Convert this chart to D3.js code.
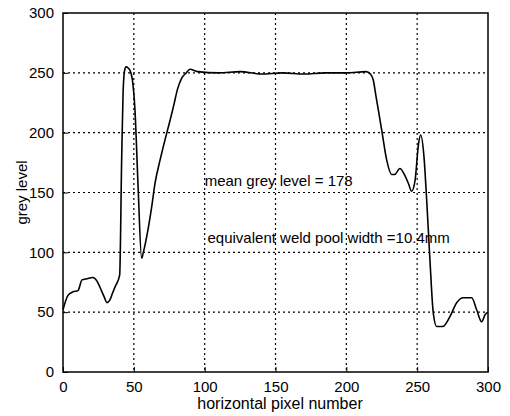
<!DOCTYPE html>
<html>
<head>
<meta charset="utf-8">
<script src="https://cdn.jsdelivr.net/npm/d3@7"></script>
<style>
  body { margin: 0; background: #fff; }
  text { font-family: "Liberation Sans", Arial, sans-serif; fill: #000; }
</style>
</head>
<body>
<svg></svg>
<script>
// grey level profile
let pixelX = [0, 3.5, 7, 10.6, 13.4, 17, 21, 24, 26, 29, 31, 33, 35, 36.7, 40, 41.4, 42.4, 43.5, 44.5, 46, 47.3, 49, 50.8, 53, 55.5, 56.7, 60, 62.6, 65, 68.5, 72, 75.5, 78, 81, 84, 87, 89.6, 95, 110, 125, 140, 155, 170, 185, 200, 214, 217, 219, 221, 225, 228.5, 232, 234, 237.8, 241, 244, 246, 248.5, 251, 252.5, 254.8, 256.7, 259, 261.4, 263.8, 268, 273, 278, 282.6, 288.5, 292, 295.5, 298, 300];
let greyLevel = [52, 64, 67, 68, 77, 78, 79, 76, 71, 63, 58, 60, 66, 71, 81, 177, 233, 252, 255, 254, 252, 244, 219, 155, 95, 100, 119, 138, 158, 177, 194, 210, 222, 237, 246, 250, 253, 251, 250, 251, 249, 250, 249, 250, 250, 251, 249, 244, 230, 202, 177, 165, 165, 170, 165, 157, 151, 160, 191, 198, 180, 144, 94, 49, 38, 38, 46, 58, 62, 62, 52, 42, 48, 50];

let xTicks = [0, 50, 100, 150, 200, 250, 300];
let yTicks = [0, 50, 100, 150, 200, 250, 300];

let notes = [
  { x: 100, y: 155.5, label: 'mean grey level = 178' },
  { x: 102, y: 108, label: 'equivalent weld pool width =10.4mm' }
];

let width = 510;
let height = 416;
let plotLeft = 63, plotRight = 488, plotTop = 13, plotBottom = 372;

let svg = d3.select('svg').attr('width', width).attr('height', height);

let xScale = d3.scaleLinear().domain([0, 300]).range([plotLeft, plotRight]);
let yScale = d3.scaleLinear().domain([0, 300]).range([plotBottom, plotTop]);

// dotted grid
svg.append('g').
  selectAll('line').
  data(xTicks.slice(1, -1)).
  enter().
  append('line').
  attr('x1', d => xScale(d)).attr('x2', d => xScale(d)).
  attr('y1', plotTop).attr('y2', plotBottom).
  attr('stroke', '#000').attr('stroke-width', 1.2).
  attr('stroke-dasharray', '2,3');

svg.append('g').
  selectAll('line').
  data(yTicks.slice(1, -1)).
  enter().
  append('line').
  attr('y1', d => yScale(d)).attr('y2', d => yScale(d)).
  attr('x1', plotLeft).attr('x2', plotRight).
  attr('stroke', '#000').attr('stroke-width', 1.2).
  attr('stroke-dasharray', '2,3');

let xAxis = d3.axisBottom(xScale).tickValues(xTicks).tickSize(-5).tickPadding(9);
let yAxis = d3.axisLeft(yScale).tickValues(yTicks).tickSize(-5).tickPadding(9);

let gx = svg.append('g').
  attr('transform', 'translate(0,' + plotBottom + ')').
  call(xAxis);
let gy = svg.append('g').
  attr('transform', 'translate(' + plotLeft + ',0)').
  call(yAxis);

[gx, gy].forEach(g => {
  g.select('.domain').remove();
  g.selectAll('text').style('font-size', '15px').style('font-family', '"Liberation Sans", Arial, sans-serif');
  g.selectAll('line').attr('stroke-width', 1);
});

// frame
svg.append('rect').
  attr('x', plotLeft).attr('y', plotTop).
  attr('width', plotRight - plotLeft).attr('height', plotBottom - plotTop).
  attr('fill', 'none').attr('stroke', '#000').attr('stroke-width', 1.5);

let line = d3.line().
  x((d, i) => xScale(pixelX[i])).
  y(d => yScale(d)).
  curve(d3.curveMonotoneX);

svg.append('path').
  datum(greyLevel).
  attr('d', line).
  attr('fill', 'none').
  attr('stroke', '#000').
  attr('stroke-width', 1.6);

svg.selectAll('.note').
  data(notes).
  enter().
  append('text').
  attr('class', 'note').
  attr('x', d => xScale(d.x)).
  attr('y', d => yScale(d.y)).
  style('font-size', '15px').
  text(d => d.label);

svg.append('text').
  attr('x', 280).
  attr('y', 409).
  attr('text-anchor', 'middle').
  style('font-size', '16px').
  text('horizontal pixel number');

svg.append('text').
  attr('transform', 'translate(27,' + ((plotTop + plotBottom) / 2) + ') rotate(-90)').
  attr('text-anchor', 'middle').
  style('font-size', '15px').
  text('grey level');
</script>
</body>
</html>
